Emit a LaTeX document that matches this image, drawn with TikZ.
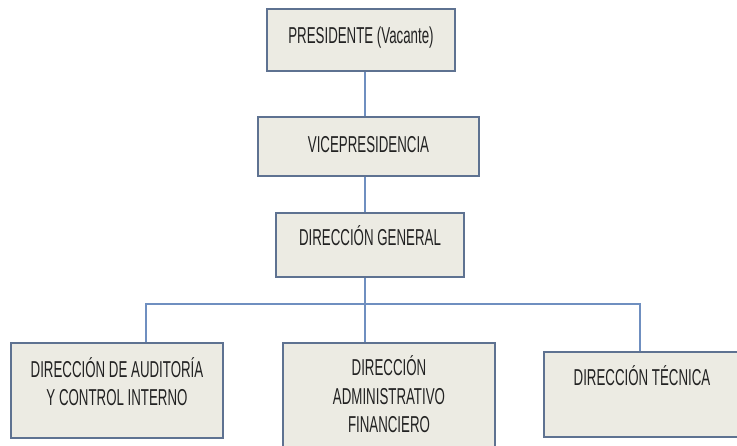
\documentclass[tikz,border=0pt]{standalone}
\usepackage{fontspec}
\setmainfont[FakeStretch=0.578]{Liberation Sans}
\usepackage{tikz}
\usetikzlibrary{positioning, calc}
\definecolor{boxfill}{RGB}{236,235,227}
\definecolor{boxline}{RGB}{94,114,145}
\definecolor{linkblue}{RGB}{111,143,192}
\definecolor{txt}{RGB}{34,34,34}
\tikzset{
    unit/.style={draw=boxline, line width=1.6pt, fill=boxfill, inner xsep=0pt,
        inner ysep=4pt, align=center, text=txt,
        font=\fontsize{23}{28.5}\selectfont},
    link/.style={draw=linkblue, line width=1.5pt},
}

\begin{document}
\begin{tikzpicture}[x=1pt, y=-1pt]
        \useasboundingbox (0,0) rectangle (737,446);

        % Niveles superiores
        \node[unit, minimum width=188pt, text height=31pt, text depth=23pt] (pres) at (361,40) {PRESIDENTE (Vacante)};
        \node[unit, minimum width=221pt, text height=32pt, text depth=19pt] (vice) at (368.5,146.5) {VICEPRESIDENCIA};
        \node[unit, minimum width=188pt, text height=29pt, text depth=27pt] (dg) at (370,245) {DIRECCIÓN GENERAL};

        % Direcciones
        \node[unit, minimum width=212pt, text height=59pt, text depth=28pt] (audit) at (117,390.5) {DIRECCIÓN DE AUDITORÍA\\Y CONTROL INTERNO};
        \node[unit, minimum width=212pt, text height=86pt, text depth=18pt] (adm) at (389,399) {DIRECCIÓN\\ADMINISTRATIVO\\FINANCIERO};
        \node[unit, minimum width=196pt, text height=30pt, text depth=47pt] (tec) at (642,394.5) {DIRECCIÓN TÉCNICA};

        % Conexiones
        \coordinate (jl) at (146,304);
        \coordinate (jr) at (640,304);
        \coordinate (spine) at (365,0);
        \draw[link] (pres.south -| spine) -- (vice.north -| spine);
        \draw[link] (vice.south -| spine) -- (dg.north -| spine);
        \draw[link] (dg.south -| spine) -- (adm.north -| spine);
        \draw[link] (audit.north -| jl) -- (jl) -- (jr) -- (tec.north -| jr);
\end{tikzpicture}
\end{document}
